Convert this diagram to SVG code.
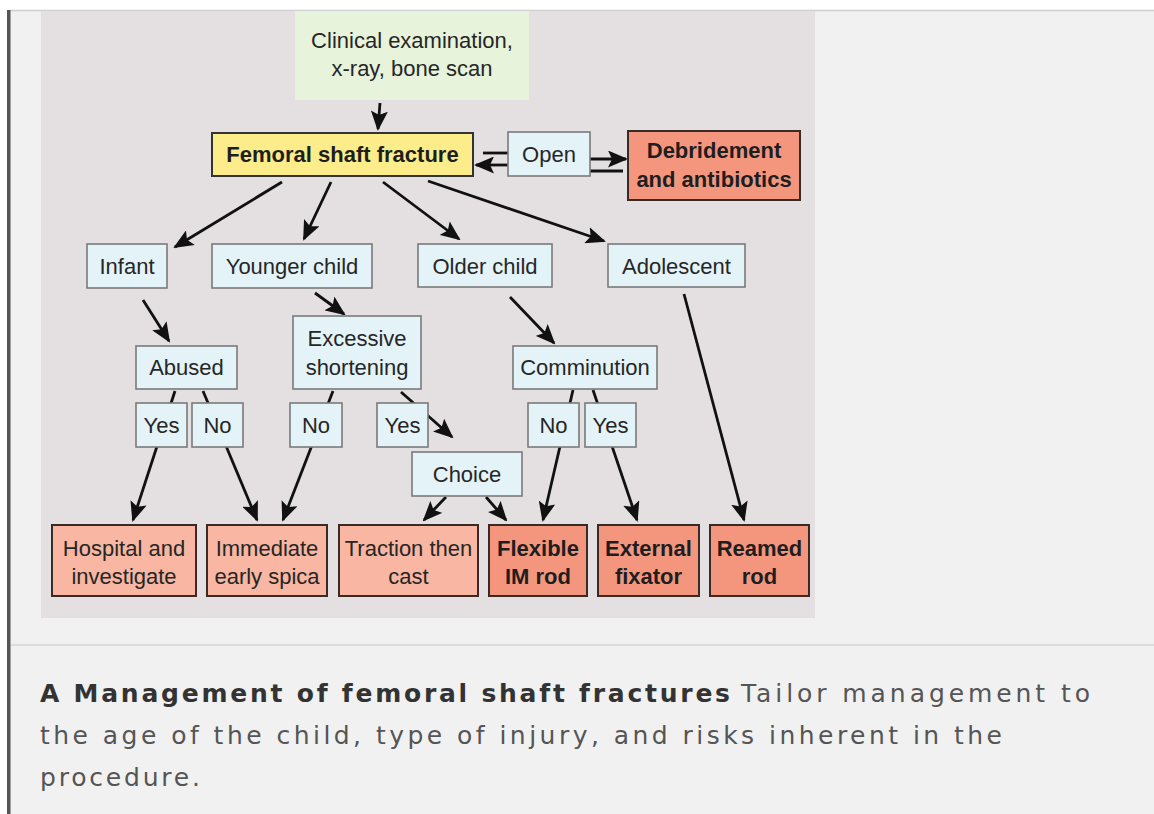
<svg xmlns="http://www.w3.org/2000/svg" width="1154" height="814" viewBox="0 0 1154 814">
<defs>
<marker id="ah" markerUnits="userSpaceOnUse" markerWidth="20" markerHeight="17" viewBox="0 0 20 17" refX="18" refY="8.5" orient="auto">
<path d="M0,0 L20,8.5 L0,17 L4,8.5 z" fill="#111"/>
</marker>
<style>
.lb{fill:#e4f3f8;stroke:#7a7a7a;stroke-width:1.6}
.yl{fill:#fcec8a;stroke:#333;stroke-width:2}
.gr{fill:#e8f3dc}
.sd{fill:#f4967e;stroke:#3a2a26;stroke-width:2}
.sl{fill:#f8b6a3;stroke:#3a2a26;stroke-width:2}
.t{font-family:"Liberation Sans",Arial,sans-serif;font-size:22px;fill:#262626;text-anchor:middle}
.b{font-weight:bold;fill:#1e1e1e}
.c line,.c path{stroke:#111;stroke-width:2.8;fill:none}
.a{marker-end:url(#ah)}
.cap{font-family:"DejaVu Sans",Verdana,sans-serif;font-size:25px}
</style>
</defs>
<rect x="0" y="0" width="1154" height="814" fill="#ffffff"/>
<rect x="10" y="10" width="1144" height="804" fill="#f1f1f1"/>
<line x1="10" y1="10.5" x2="1154" y2="10.5" stroke="#cfcfcf" stroke-width="1.5"/>
<rect x="7" y="10" width="3.5" height="804" fill="#555"/>
<rect x="41" y="11" width="774" height="607" fill="#e4e0e2"/>
<line x1="11" y1="645" x2="1154" y2="645" stroke="#dcdcdc" stroke-width="2"/>

<g class="c" id="connectors">
<line class="a" x1="380" y1="103" x2="378" y2="129"/>
<line class="a" x1="282" y1="182" x2="175" y2="247"/>
<line class="a" x1="331" y1="182" x2="304" y2="239"/>
<line class="a" x1="383" y1="182" x2="459" y2="239"/>
<line class="a" x1="428" y1="181" x2="604" y2="241"/>
<line x1="483" y1="153" x2="508" y2="153"/>
<line class="a" x1="508" y1="165" x2="476" y2="165"/>
<line class="a" x1="590" y1="159" x2="626" y2="159"/>
<line x1="590" y1="171" x2="623" y2="171"/>
<line class="a" x1="143" y1="300" x2="169" y2="341"/>
<line class="a" x1="315" y1="293" x2="344" y2="314"/>
<line class="a" x1="510" y1="297" x2="554" y2="343"/>
<line class="a" x1="684" y1="294" x2="744" y2="520"/>
<line class="a" x1="175" y1="391" x2="133" y2="520"/>
<line class="a" x1="203" y1="391" x2="257" y2="520"/>
<line class="a" x1="333" y1="391" x2="283" y2="520"/>
<line class="a" x1="401" y1="392" x2="452" y2="437"/>
<line class="a" x1="446" y1="497" x2="424" y2="520"/>
<line class="a" x1="486" y1="497" x2="506" y2="520"/>
<line class="a" x1="573" y1="390" x2="543" y2="520"/>
<line class="a" x1="593" y1="390" x2="637" y2="520"/>
</g>

<g id="clinical"><rect class="gr" x="295" y="11" width="234" height="89"/>
<text class="t" x="412" y="48">Clinical examination,</text><text class="t" x="412" y="76">x-ray, bone scan</text></g>
<g id="femoral"><rect class="yl" x="212" y="133" width="261" height="43"/>
<text class="t b" x="342.5" y="162">Femoral shaft fracture</text></g>
<g id="open"><rect class="lb" x="508" y="132" width="82" height="44"/>
<text class="t" x="549" y="162">Open</text></g>
<g id="debridement"><rect class="sd" x="628" y="131" width="172" height="69"/>
<text class="t b" x="714" y="158">Debridement</text><text class="t b" x="714" y="187">and antibiotics</text></g>

<g id="infant"><rect class="lb" x="87" y="244" width="80" height="44"/>
<text class="t" x="127" y="274">Infant</text></g>
<g id="younger"><rect class="lb" x="212" y="244" width="160" height="44"/>
<text class="t" x="292" y="274">Younger child</text></g>
<g id="older"><rect class="lb" x="418" y="244" width="134" height="43"/>
<text class="t" x="485" y="274">Older child</text></g>
<g id="adolescent"><rect class="lb" x="608" y="244" width="137" height="43"/>
<text class="t" x="676.5" y="274">Adolescent</text></g>

<g id="abused"><rect class="lb" x="136" y="346" width="101" height="43"/>
<text class="t" x="186.5" y="375">Abused</text></g>
<g id="excessive"><rect class="lb" x="293" y="316" width="128" height="73"/>
<text class="t" x="357" y="346">Excessive</text><text class="t" x="357" y="375">shortening</text></g>
<g id="comminution"><rect class="lb" x="513" y="346" width="144" height="43"/>
<text class="t" x="585" y="375">Comminution</text></g>

<g id="abused-yes"><rect class="lb" x="136" y="403" width="51" height="44"/>
<text class="t" x="161.5" y="433">Yes</text></g>
<g id="abused-no"><rect class="lb" x="192" y="403" width="51" height="44"/>
<text class="t" x="217.5" y="433">No</text></g>
<g id="short-no"><rect class="lb" x="290" y="403" width="52" height="44"/>
<text class="t" x="316" y="433">No</text></g>
<g id="short-yes"><rect class="lb" x="377" y="403" width="51" height="44"/>
<text class="t" x="402.5" y="433">Yes</text></g>
<g id="comm-no"><rect class="lb" x="528" y="403" width="51" height="44"/>
<text class="t" x="553.5" y="433">No</text></g>
<g id="comm-yes"><rect class="lb" x="585" y="403" width="51" height="44"/>
<text class="t" x="610.5" y="433">Yes</text></g>

<g id="choice"><rect class="lb" x="412" y="452" width="110" height="44"/>
<text class="t" x="467" y="482">Choice</text></g>

<g id="hospital"><rect class="sl" x="52" y="525" width="144" height="71"/>
<text class="t" x="124" y="556">Hospital and</text><text class="t" x="124" y="584">investigate</text></g>
<g id="immediate"><rect class="sl" x="207" y="525" width="120" height="71"/>
<text class="t" x="267" y="556">Immediate</text><text class="t" x="267" y="584">early spica</text></g>
<g id="traction"><rect class="sl" x="339" y="525" width="139" height="71"/>
<text class="t" x="408.5" y="556">Traction then</text><text class="t" x="408.5" y="584">cast</text></g>
<g id="flexible"><rect class="sd" x="489" y="525" width="98" height="71"/>
<text class="t b" x="538" y="556">Flexible</text><text class="t b" x="538" y="584">IM rod</text></g>
<g id="external"><rect class="sd" x="598" y="525" width="101" height="71"/>
<text class="t b" x="648.5" y="556">External</text><text class="t b" x="648.5" y="584">fixator</text></g>
<g id="reamed"><rect class="sd" x="710" y="525" width="99" height="71"/>
<text class="t b" x="759.5" y="556">Reamed</text><text class="t b" x="759.5" y="584">rod</text></g>

<g id="caption">
<text class="cap" x="40" y="702" font-weight="bold" fill="#333" textLength="690" lengthAdjust="spacing">A Management of femoral shaft fractures</text>
<text class="cap" x="741" y="702" fill="#555" textLength="349" lengthAdjust="spacing">Tailor management to</text>
<text class="cap" x="40" y="744" fill="#555" textLength="962" lengthAdjust="spacing">the age of the child, type of injury, and risks inherent in the</text>
<text class="cap" x="40" y="786" fill="#555" textLength="160" lengthAdjust="spacing">procedure.</text>
</g>
</svg>
